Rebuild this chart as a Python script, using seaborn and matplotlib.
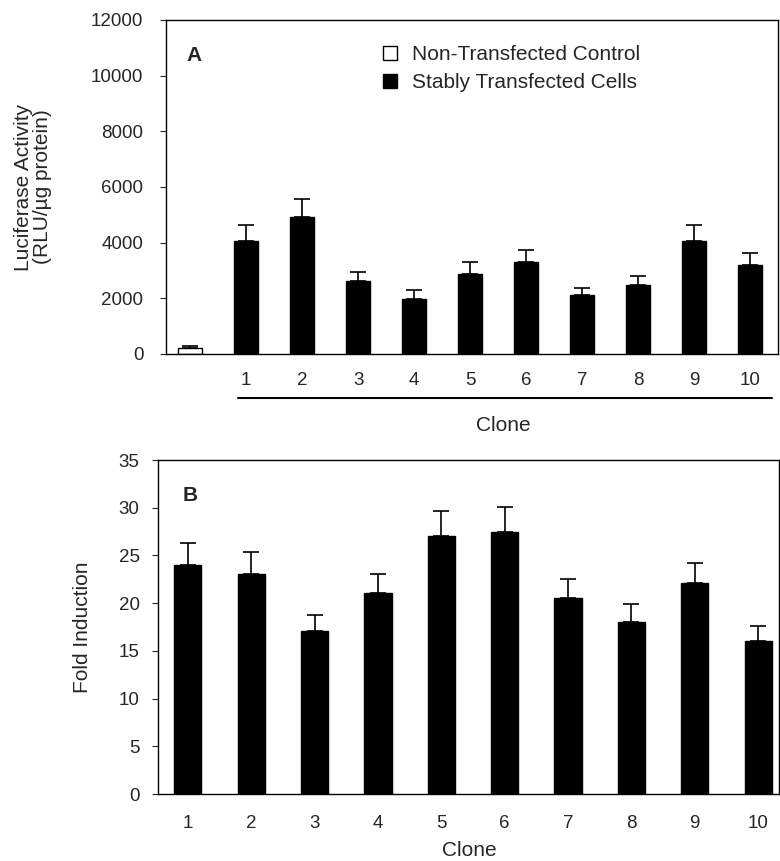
import numpy as np
import pandas as pd
import matplotlib
matplotlib.use("Agg")
import matplotlib.pyplot as plt
from matplotlib.patches import Patch
import seaborn as sns

# panel A: luciferase activity
clones_a = ["Control", "1", "2", "3", "4", "5", "6", "7", "8", "9", "10"]
groups_a = ["Non-Transfected Control"] + ["Stably Transfected Cells"] * 10
activity = [210, 4060, 4930, 2620, 1980, 2870, 3310, 2110, 2490, 4060, 3200]
activity_err = [60, 570, 640, 335, 335, 445, 430, 250, 310, 565, 420]

# panel B: fold induction
clones_b = ["1", "2", "3", "4", "5", "6", "7", "8", "9", "10"]
fold = [24.0, 23.05, 17.1, 21.1, 27.05, 27.5, 20.5, 18.0, 22.1, 16.05]
fold_err = [2.35, 2.35, 1.65, 2.0, 2.65, 2.6, 2.05, 1.9, 2.1, 1.6]

df_a = pd.DataFrame({"clone": clones_a, "group": groups_a, "value": activity})
df_b = pd.DataFrame({"clone": clones_b, "value": fold})

sns.set_style("ticks")
plt.rcParams["font.family"] = ["Liberation Sans", "DejaVu Sans"]
plt.rcParams["axes.linewidth"] = 1.0

fig = plt.figure(figsize=(7.8, 8.61), dpi=100)
ax_a = fig.add_axes([0.2128, 0.5889, 0.7846, 0.3879])
ax_b = fig.add_axes([0.2026, 0.0778, 0.7962, 0.3879])

pal = {"Non-Transfected Control": "white", "Stably Transfected Cells": "black"}

# ---- panel A
sns.barplot(data=df_a, x="clone", y="value", hue="group", order=clones_a,
            palette=pal, dodge=False, width=0.43, edgecolor="black",
            linewidth=1.0, errorbar=None, legend=False, ax=ax_a)
n = len(activity)
ax_a.errorbar(np.arange(n), activity, yerr=[np.zeros(n), activity_err],
              fmt="none", ecolor="black", elinewidth=1.2, capsize=5.5,
              capthick=1.2, zorder=3)
ax_a.set_xlim(-0.43, 10.5)
ax_a.set_ylim(0, 12000)
ax_a.set_yticks(np.arange(0, 12001, 2000))
ax_a.set_xticks(np.arange(n))
ax_a.set_xticklabels([""] + clones_a[1:])
ax_a.tick_params(axis="y", labelsize=13.5, length=4.3, pad=12, direction="out")
ax_a.tick_params(axis="x", labelsize=13.5, length=0, pad=13)
ax_a.set_ylabel("Luciferase Activity\n(RLU/µg protein)", fontsize=15,
                linespacing=1.0)
ax_a.yaxis.set_label_coords(-0.187, 0.5)
ax_a.set_xlabel("Clone", fontsize=15)
ax_a.xaxis.set_label_coords(0.552, -0.185)
# underline spanning the clones
ax_a.plot([0.85, 10.4], [-0.132, -0.132], color="black", lw=1.5,
          transform=ax_a.get_xaxis_transform(), clip_on=False)
ax_a.text(0.034, 0.895, "A", transform=ax_a.transAxes, fontsize=15,
          fontweight="bold", va="center", ha="left")
handles = [Patch(facecolor="white", edgecolor="black", label="Non-Transfected Control"),
           Patch(facecolor="black", edgecolor="black", label="Stably Transfected Cells")]
ax_a.legend(handles=handles, loc="upper left", bbox_to_anchor=(0.355, 0.925),
            frameon=False, fontsize=15, handlelength=0.65, handleheight=0.65,
            handletextpad=0.75, labelspacing=0.45, borderpad=0, borderaxespad=0)

# ---- panel B
sns.barplot(data=df_b, x="clone", y="value", order=clones_b, color="black",
            width=0.43, edgecolor="black", linewidth=1.0, errorbar=None, ax=ax_b)
m = len(fold)
ax_b.errorbar(np.arange(m), fold, yerr=[np.zeros(m), fold_err], fmt="none",
              ecolor="black", elinewidth=1.2, capsize=5.5, capthick=1.2, zorder=3)
ax_b.set_xlim(-0.47, 9.33)
ax_b.set_ylim(0, 35)
ax_b.set_yticks(np.arange(0, 36, 5))
ax_b.tick_params(axis="y", labelsize=13.5, length=4.3, pad=9, direction="out")
ax_b.tick_params(axis="x", labelsize=13.5, length=0, pad=15)
ax_b.set_ylabel("Fold Induction", fontsize=15)
ax_b.yaxis.set_label_coords(-0.106, 0.5)
ax_b.set_xlabel("Clone", fontsize=15)
ax_b.xaxis.set_label_coords(0.501, -0.142)
ax_b.text(0.039, 0.895, "B", transform=ax_b.transAxes, fontsize=15,
          fontweight="bold", va="center", ha="left")

for ax in (ax_a, ax_b):
    for s in ax.spines.values():
        s.set_visible(True)
        s.set_color("black")

fig.savefig("out.png", dpi=100)
